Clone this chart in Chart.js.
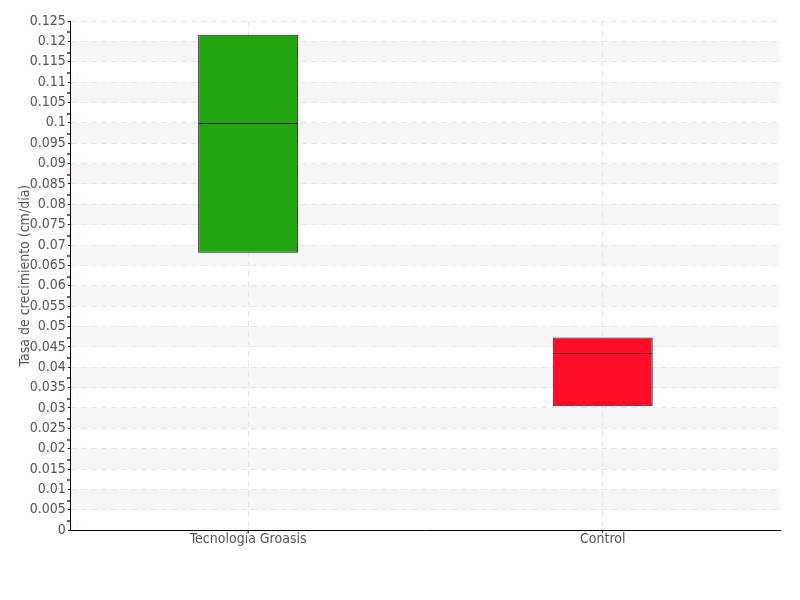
<!DOCTYPE html>
<html><head><meta charset="utf-8">
<script src="https://cdn.jsdelivr.net/npm/chart.js@4/dist/chart.umd.min.js"></script>
<style>html,body{margin:0;padding:0;background:#fff}#wrap{width:800px;height:600px}</style>
</head><body><div id="wrap"><canvas id="c" width="800" height="600"></canvas></div>
<script>
const categories = ["Tecnología Groasis", "Control"];
const boxLow = [0.0681, 0.0304];
const boxHigh = [0.1216, 0.0473];
const medians = [0.1, 0.0434];
const boxColors = ["#22a510", "#ff0d29"];
const medianColors = ["#111111", "#7a0012"];
const yMin = 0, yMax = 0.125, yStep = 0.005;
const yTitle = "Tasa de crecimiento (cm/día)";
const FONT = "'Liberation Sans Narrow', 'DejaVu Sans Condensed', sans-serif";

const bandsPlugin = {
  id: 'bandsEarly',
  beforeDraw(chart) {
    const {ctx, chartArea, scales: {y}} = chart;
    if (!chartArea) return;
    const nTop = Math.round(yMax / yStep);
    ctx.save();
    ctx.fillStyle = '#f7f7f7';
    y.ticks.forEach((t, i) => {
      const k = Math.round(t.value / yStep);
      if (k % 2 === 1 && k + 1 < nTop && i + 1 < y.ticks.length) {
        const y1 = y.getPixelForValue(t.value);
        const y2 = y.getPixelForValue(y.ticks[i + 1].value);
        ctx.fillRect(chartArea.left, y2, chartArea.right - chartArea.left, y1 - y2);
      }
    });
    ctx.restore();
  },
  afterDraw(chart) {
    const {ctx, chartArea, scales: {y}} = chart;
    ctx.save();
    ctx.fillStyle = '#ee2b36';
    for (let v = yMin + yStep / 2; v < yMax; v += yStep) {
      const py = Math.round(y.getPixelForValue(v));
      ctx.fillRect(Math.round(chartArea.left) - 4, py, 3, 2);
    }
    ctx.restore();
  }
};
const medianPlugin = {
  id: 'medians',
  afterDatasetsDraw(chart) {
    const {ctx, scales: {y}} = chart;
    const meta = chart.getDatasetMeta(0);
    ctx.save();
    ctx.lineWidth = 1;
    meta.data.forEach((bar, i) => {
      const py = Math.round(y.getPixelForValue(medians[i])) + 0.5;
      const w = bar.width;
      ctx.strokeStyle = medianColors[i];
      ctx.beginPath();
      ctx.moveTo(bar.x - w / 2 + 1, py);
      ctx.lineTo(bar.x + w / 2 - 1, py);
      ctx.stroke();
    });
    ctx.restore();
  }
};

new Chart(document.getElementById('c'), {
  type: 'bar',
  data: {
    labels: categories,
    datasets: [{
      data: categories.map((c, i) => [boxLow[i], boxHigh[i]]),
      backgroundColor: boxColors,
      borderColor: '#222',
      borderWidth: 1,
      borderSkipped: false,
      barPercentage: 0.282,
      categoryPercentage: 1
    }]
  },
  options: {
    responsive: false,
    animation: false,
    devicePixelRatio: 1,
    layout: {padding: {left: 17, right: 20, top: 21, bottom: 54}},
    plugins: {legend: {display: false}, tooltip: {enabled: false}},
    scales: {
      x: {
        offset: true,
        grid: {
          offset: false,
          color: '#e6e6e6',
          tickColor: '#444',
          tickLength: 3,
          drawOnChartArea: true
        },
        border: {display: true, color: '#000', width: 1, dash: [6, 4]},
        ticks: {color: '#555', font: {family: FONT, size: 14}, padding: -2}
      },
      y: {
        min: yMin, max: yMax,
        grid: {
          color: '#e6e6e6',
          tickColor: '#222',
          tickLength: 3,
          drawOnChartArea: true
        },
        border: {display: true, color: '#000', width: 1, dash: [6, 4]},
        ticks: {
          stepSize: yStep,
          autoSkip: false,
          color: '#555',
          font: {family: FONT, size: 14},
          padding: 2,
          callback: v => String(parseFloat(Number(v).toFixed(4)))
        },
        title: {display: true, text: yTitle, color: '#555', font: {family: FONT, size: 14}, padding: {top: 0, bottom: -6}}
      }
    }
  },
  plugins: [bandsPlugin, medianPlugin]
});
</script></body></html>
